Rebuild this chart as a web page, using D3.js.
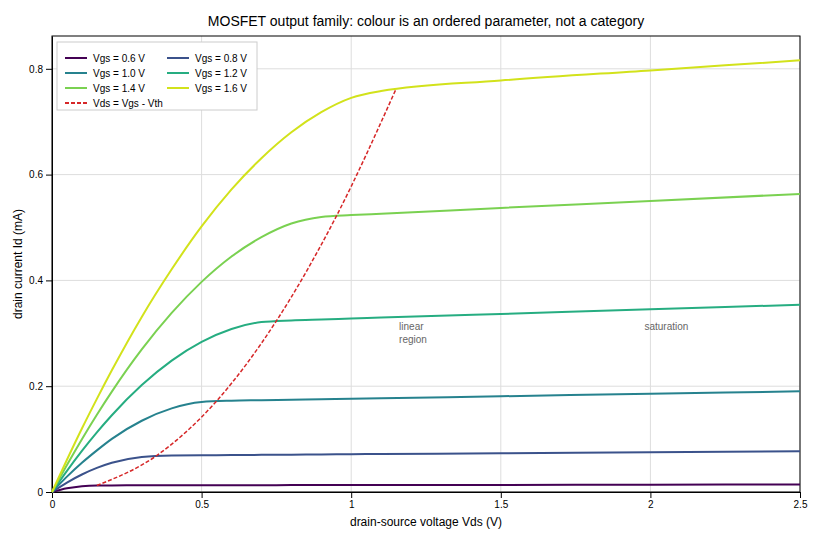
<!DOCTYPE html>
<html><head><meta charset="utf-8">
<script src="https://cdn.jsdelivr.net/npm/d3@7"></script>
<style>
body{margin:0;background:#fff;font-family:"Liberation Sans",Arial,sans-serif;}
.axis text{font-size:10px;fill:#000;}
.grid line{stroke:#ddd;}
</style></head><body>
<script>
// data
var vds = [0, 0.05, 0.1, 0.15, 0.2, 0.3, 0.4, 0.5, 0.6, 0.7, 0.8, 0.9, 1.0, 1.1, 1.5, 2.0, 2.5];
var vgsLabels = ["Vgs = 0.6 V", "Vgs = 0.8 V", "Vgs = 1.0 V", "Vgs = 1.2 V", "Vgs = 1.4 V", "Vgs = 1.6 V"];
var id06 = [0, 0.0069, 0.011, 0.0124, 0.0125, 0.0126, 0.0127, 0.0128, 0.0128, 0.0129, 0.013, 0.013, 0.0131, 0.0132, 0.0134, 0.0138, 0.0141];
var id08 = [0, 0.0179, 0.0331, 0.0455, 0.0552, 0.0662, 0.0691, 0.0695, 0.0699, 0.0702, 0.0706, 0.071, 0.0714, 0.0718, 0.0733, 0.0752, 0.0771];
var id10 = [0, 0.029, 0.0552, 0.0787, 0.1005, 0.1347, 0.158, 0.170, 0.1726, 0.1735, 0.1745, 0.1755, 0.1764, 0.1773, 0.181, 0.1857, 0.1904];
var id12 = [0, 0.040, 0.0777, 0.1127, 0.1451, 0.2021, 0.2483, 0.2837, 0.3082, 0.3212, 0.3244, 0.3262, 0.3279, 0.3297, 0.3366, 0.3453, 0.354];
var id14 = [0, 0.0511, 0.0999, 0.1461, 0.1898, 0.2695, 0.3385, 0.3972, 0.4452, 0.4818, 0.5076, 0.5200, 0.5235, 0.5260, 0.5370, 0.550, 0.5635];
var id16 = [0, 0.061, 0.120, 0.176, 0.230, 0.331, 0.421, 0.502, 0.572, 0.631, 0.680, 0.718, 0.745, 0.758, 0.778, 0.797, 0.816];
var idSeries = [id06, id08, id10, id12, id14, id16];
var kneeVds = [0.15, 0.35, 0.55, 0.75, 0.95, 1.15];
var kneeId = [0.0124, 0.069, 0.172, 0.3235, 0.521, 0.762];
var colourPos = [0.0, 0.25, 0.44, 0.62, 0.8, 0.93];
var xTicks = [0, 0.5, 1, 1.5, 2, 2.5];
var yTicks = [0, 0.2, 0.4, 0.6, 0.8];

var W = 820, H = 540, m = {l: 52, r: 20, t: 36, b: 48};
var svg = d3.select("body").append("svg").attr("width", W).attr("height", H);
var x = d3.scaleLinear().domain([0, 2.5]).range([m.l, W - m.r]);
var y = d3.scaleLinear().domain([0, 0.862]).range([H - m.b, m.t]);
var colors = colourPos.map(function(t) { return d3.interpolateViridis(t); });

svg.append("text").attr("x", (m.l + W - m.r) / 2).attr("y", 26).attr("text-anchor", "middle")
    .attr("font-size", 14).text("MOSFET output family: colour is an ordered parameter, not a category");

var grid = svg.append("g").attr("class", "grid");
grid.selectAll(".gx").data(xTicks).join("line").attr("x1", x).attr("x2", x).attr("y1", m.t).attr("y2", H - m.b);
grid.selectAll(".gy").data(yTicks).join("line").attr("y1", y).attr("y2", y).attr("x1", m.l).attr("x2", W - m.r);

svg.append("g").attr("class", "axis").attr("transform", "translate(0," + (H - m.b) + ")")
    .call(d3.axisBottom(x).tickValues(xTicks).tickFormat(d3.format("")).tickSizeOuter(0));
svg.append("g").attr("class", "axis").attr("transform", "translate(" + m.l + ",0)")
    .call(d3.axisLeft(y).tickValues(yTicks).tickFormat(d3.format("")).tickSizeOuter(0));
svg.append("rect").attr("x", m.l).attr("y", m.t).attr("width", W - m.r - m.l).attr("height", H - m.b - m.t)
    .attr("fill", "none").attr("stroke", "#000");

svg.append("text").attr("x", (m.l + W - m.r) / 2).attr("y", H - 14).attr("text-anchor", "middle")
    .attr("font-size", 12).text("drain-source voltage Vds (V)");
svg.append("text").attr("transform", "translate(22," + ((m.t + H - m.b) / 2) + ") rotate(-90)")
    .attr("text-anchor", "middle").attr("font-size", 12).text("drain current Id (mA)");

var line = d3.line().x(function(d) { return x(d[0]); }).y(function(d) { return y(d[1]); }).curve(d3.curveMonotoneX);
idSeries.forEach(function(s, i) {
  svg.append("path").attr("d", line(vds.map(function(v, j) { return [v, s[j]]; })))
      .attr("fill", "none").attr("stroke", colors[i]).attr("stroke-width", 2);
});
svg.append("path").attr("d", line(kneeVds.map(function(v, j) { return [v, kneeId[j]]; })))
    .attr("fill", "none").attr("stroke", "#d62728").attr("stroke-width", 1.5).attr("stroke-dasharray", "4,2");

svg.append("text").attr("x", x(1.16)).attr("y", y(0.307)).attr("font-size", 10).attr("fill", "#666").text("linear");
svg.append("text").attr("x", x(1.16)).attr("y", y(0.282)).attr("font-size", 10).attr("fill", "#666").text("region");
svg.append("text").attr("x", x(1.98)).attr("y", y(0.307)).attr("font-size", 10).attr("fill", "#666").text("saturation");

// legend
var lg = svg.append("g").attr("transform", "translate(57,42)");
lg.append("rect").attr("width", 200).attr("height", 68).attr("fill", "#fff").attr("stroke", "#ccc");
var items = vgsLabels.map(function(d, i) { return {t: d, c: colors[i], dash: null}; });
items.push({t: "Vds = Vgs - Vth", c: "#d62728", dash: "4,2"});
items.forEach(function(d, i) {
  var g = lg.append("g").attr("transform", "translate(" + (8 + (i % 2) * 102) + "," + (16 + Math.floor(i / 2) * 15) + ")");
  g.append("line").attr("x1", 0).attr("x2", 22).attr("stroke", d.c).attr("stroke-width", 2).attr("stroke-dasharray", d.dash);
  g.append("text").attr("x", 28).attr("y", 3.5).attr("font-size", 10).text(d.t);
});
</script>
</body></html>
